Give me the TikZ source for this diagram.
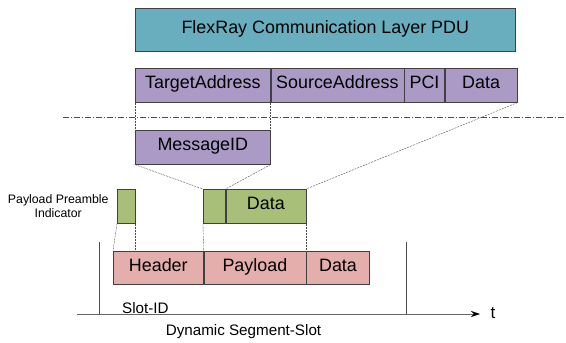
\documentclass[tikz,border=0pt]{standalone}
\usepackage{fontspec}
\setmainfont{Liberation Sans}
\usepackage{xcolor}
\usetikzlibrary{arrows.meta,positioning}

\definecolor{pduteal}{HTML}{69AEBE}
\definecolor{tppurple}{HTML}{AB9AC5}
\definecolor{frgreen}{HTML}{A7BF78}
\definecolor{slotred}{HTML}{E3AEAC}

\begin{document}
\begin{tikzpicture}[
  x=1pt, y=-1pt,
  >=Stealth,
  every node/.style={font=\fontsize{17.9}{20}\selectfont},
  cell/.style={rectangle, draw=black!75, line width=0.6pt, inner sep=0pt,
    minimum height=34pt, text height=0.72em, text depth=0pt},
  guide/.style={draw=black!70, line width=0.4pt, dash pattern=on 2pt off 1pt},
  sep/.style={draw=black!70, line width=0.5pt, dash pattern=on 6pt off 2pt on 1pt off 2pt},
  small/.style={font=\fontsize{12.3}{14}\selectfont},
  axislabel/.style={font=\fontsize{15.2}{17}\selectfont},
]
\useasboundingbox (0,0) rectangle (566,343);

% FlexRay PDU
\node[cell, fill=pduteal, minimum width=380pt, minimum height=43pt, anchor=north west] (pdu) at (135,8)
  {FlexRay Communication Layer PDU};

% Transport protocol fields
\node[cell, fill=tppurple, minimum width=135pt, anchor=north west] (ta) at (135,68) {TargetAddress};
\node[cell, fill=tppurple, minimum width=133pt, right=0pt of ta] (sa) {SourceAddress};
\node[cell, fill=tppurple, minimum width=40pt, right=0pt of sa] (pci) {PCI};
\node[cell, fill=tppurple, minimum width=72pt, right=0pt of pci] (tpdata) {Data};

% Layer separator
\coordinate (sepl) at (63,117);
\coordinate (sepr) at (566,117);
\draw[sep] (sepl) -- (sepr);

\node[cell, fill=tppurple, minimum width=135pt, anchor=north west] (msgid) at (135,130) {MessageID};

% Frame payload
\node[cell, fill=frgreen, minimum width=18pt, anchor=north west] (ppi) at (117,189) {};
\node[small, left=5pt of ppi, align=center] (ppilabel) {Payload Preamble\\Indicator};
\node[cell, fill=frgreen, minimum width=22pt, anchor=north west] (idpart) at (203,189) {};
\node[cell, fill=frgreen, minimum width=80pt, right=0pt of idpart] (frdata) {Data};

% Slot
\node[cell, fill=slotred, minimum width=90pt, minimum height=33pt, anchor=north west] (header) at (113,251) {Header};
\node[cell, fill=slotred, minimum width=102pt, minimum height=33pt, right=0pt of header] (payload) {Payload};
\node[cell, fill=slotred, minimum width=63pt, minimum height=33pt, right=0pt of payload] (sldata) {Data};

% Guides
\draw[guide] (ta.south west) -- (msgid.north west);
\draw[guide] (ta.south east) -- (msgid.north east);
\draw[guide] (msgid.south west) -- (idpart.north west);
\draw[guide] (msgid.south east) -- (idpart.north east);
\draw[guide] (tpdata.south east) -- (frdata.north east);
\draw[guide] (ppi.south west) -- (header.north west);
\draw[guide] (ppi.south east) -- (header.north west -| ppi.south east);
\draw[guide] (idpart.south west) -- (payload.north west);
\draw[guide] (frdata.south east) -- (payload.north east);

% Time axis
\coordinate (t0) at (77,314);
\coordinate (t1) at (480,314);
\coordinate (slotl) at (99,242);
\coordinate (slotr) at (406,242);
\draw[black!60, line width=0.6pt, -{Stealth[length=9pt, width=6pt, black]}] (t0) -- (t1);
\draw[black!70, line width=0.6pt] (slotl) -- (slotl |- t0);
\draw[black!70, line width=0.6pt] (slotr) -- (slotr |- t0);
\node[font=\fontsize{17}{19}\selectfont] (tlabel) at (493,313) {t};
\node[axislabel, anchor=west, inner sep=0pt] (slotid) at (122,308) {Slot-ID};
\node[axislabel] (dynslot) at (243.5,332) {Dynamic Segment-Slot};

\end{tikzpicture}
\end{document}
